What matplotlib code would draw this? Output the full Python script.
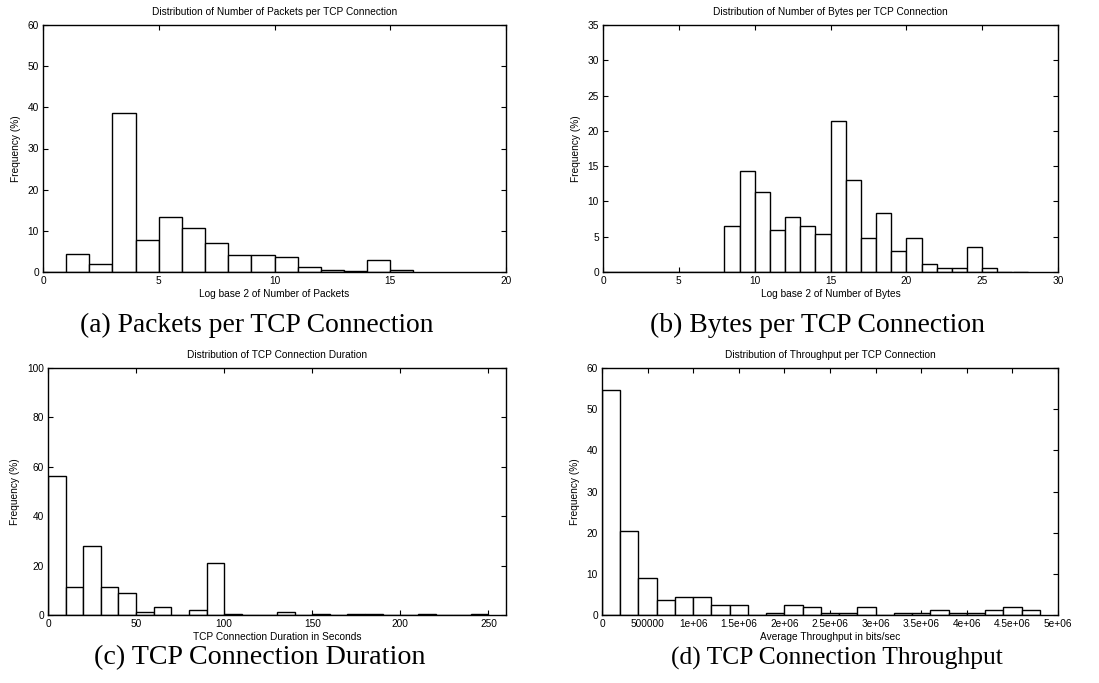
import numpy as np
import matplotlib
matplotlib.use("Agg")
import matplotlib.pyplot as plt

# ---- data: frequency (%) per histogram bin ----
packets_bin_width = 1
packets_freq = [0.0, 4.45, 2.0, 38.7, 7.85, 13.4, 10.6, 7.0, 4.1, 4.1,
                3.7, 1.3, 0.5, 0.15, 2.9, 0.5]

bytes_bin_width = 1
bytes_freq = [0, 0, 0, 0, 0, 0, 0, 0, 6.5, 14.3,
              11.3, 6.0, 7.75, 6.5, 5.4, 21.4, 13.1, 4.8, 8.35, 3.0,
              4.8, 1.2, 0.6, 0.6, 3.6, 0.6, 0, 0]

duration_bin_width = 10
duration_freq = [56.1, 11.3, 28.0, 11.3, 8.9, 1.2, 3.1, 0.0, 1.9, 21.0,
                 0.5, 0.0, 0.0, 1.2, 0.0, 0.5, 0.0, 0.5, 0.5, 0.0,
                 0.0, 0.5, 0.0, 0.0, 0.5]

throughput_bin_width = 200000
throughput_freq = [54.7, 20.3, 9.0, 3.6, 4.3, 4.3, 2.4, 2.4, 0.0, 0.6,
                   2.4, 1.85, 0.6, 0.6, 1.85, 0.0, 0.6, 0.6, 1.2, 0.6,
                   0.6, 1.2, 1.85, 1.2]

throughput_ticks = [0, 500000, 1000000, 1500000, 2000000, 2500000,
                    3000000, 3500000, 4000000, 4500000, 5000000]
throughput_tick_labels = ["0", "500000", "1e+06", "1.5e+06", "2e+06", "2.5e+06",
                          "3e+06", "3.5e+06", "4e+06", "4.5e+06", "5e+06"]

titles = ["Distribution of Number of Packets per TCP Connection",
          "Distribution of Number of Bytes per TCP Connection",
          "Distribution of TCP Connection Duration",
          "Distribution of Throughput per TCP Connection"]
xlabels = ["Log base 2 of Number of Packets",
           "Log base 2 of Number of Bytes",
           "TCP Connection Duration in Seconds",
           "Average Throughput in bits/sec"]
captions = ["(a) Packets per TCP Connection",
            "(b) Bytes per TCP Connection",
            "(c) TCP Connection Duration",
            "(d) TCP Connection Throughput"]

W, H = 1099, 683
fig = plt.figure(figsize=(W / 100, H / 100), dpi=100)

SANS = ["Liberation Sans", "DejaVu Sans"]
SERIF = ["Liberation Serif", "DejaVu Serif"]
small = 7.3


def make_axes(left, right, top, bottom):
    return fig.add_axes([left / W, 1 - bottom / H, (right - left) / W, (bottom - top) / H])


def style(ax, title, xlabel, ylabel_x):
    for s in ax.spines.values():
        s.set_linewidth(1.0)
        s.set_color("black")
    ax.tick_params(direction="in", length=3.5, width=0.8, top=True, right=True,
                   labelsize=small, pad=3)
    for lab in ax.get_xticklabels() + ax.get_yticklabels():
        lab.set_family(SANS)
    ax.set_title(title, fontsize=small, family=SANS, pad=7)
    ax.set_xlabel(xlabel, fontsize=small, family=SANS, labelpad=2)
    ax.set_ylabel("Frequency (%)", fontsize=small, family=SANS)
    ax.yaxis.set_label_coords(ylabel_x, 0.5)


def hist(ax, freq, width):
    edges = np.arange(len(freq)) * width
    ax.bar(edges, freq, width=width, align="edge", facecolor="white",
           edgecolor="black", linewidth=1.0, zorder=2)


# (a) packets
ax = make_axes(43, 506, 25, 272)
hist(ax, packets_freq, packets_bin_width)
ax.set_xlim(0, 20)
ax.set_ylim(0, 60)
ax.set_xticks([0, 5, 10, 15, 20])
ax.set_yticks([0, 10, 20, 30, 40, 50, 60])
style(ax, titles[0], xlabels[0], -0.047)

# (b) bytes
ax = make_axes(603, 1058, 25, 272)
hist(ax, bytes_freq, bytes_bin_width)
ax.set_xlim(0, 30)
ax.set_ylim(0, 35)
ax.set_xticks([0, 5, 10, 15, 20, 25, 30])
ax.set_yticks([0, 5, 10, 15, 20, 25, 30, 35])
style(ax, titles[1], xlabels[1], -0.049)

# (c) duration
ax = make_axes(48, 506, 368, 615)
hist(ax, duration_freq, duration_bin_width)
ax.set_xlim(0, 260)
ax.set_ylim(0, 100)
ax.set_xticks([0, 50, 100, 150, 200, 250])
ax.set_yticks([0, 20, 40, 60, 80, 100])
style(ax, titles[2], xlabels[2], -0.061)

# (d) throughput
ax = make_axes(602, 1058, 368, 615)
hist(ax, throughput_freq, throughput_bin_width)
ax.set_xlim(0, 5000000)
ax.set_ylim(0, 60)
ax.set_xticks(throughput_ticks)
ax.set_xticklabels(throughput_tick_labels)
ax.set_yticks([0, 10, 20, 30, 40, 50, 60])
style(ax, titles[3], xlabels[3], -0.049)

# sub-figure captions
cap_pos = [(257, 325), (817, 325), (260, 658), (837, 658)]
cap_size = [19.8, 19.9, 20.2, 18.4]
for text, (x, y), size in zip(captions, cap_pos, cap_size):
    fig.text(x / W, 1 - y / H, text, ha="center", va="center",
             fontsize=size, family=SERIF)

fig.savefig("out.png", dpi=100)
